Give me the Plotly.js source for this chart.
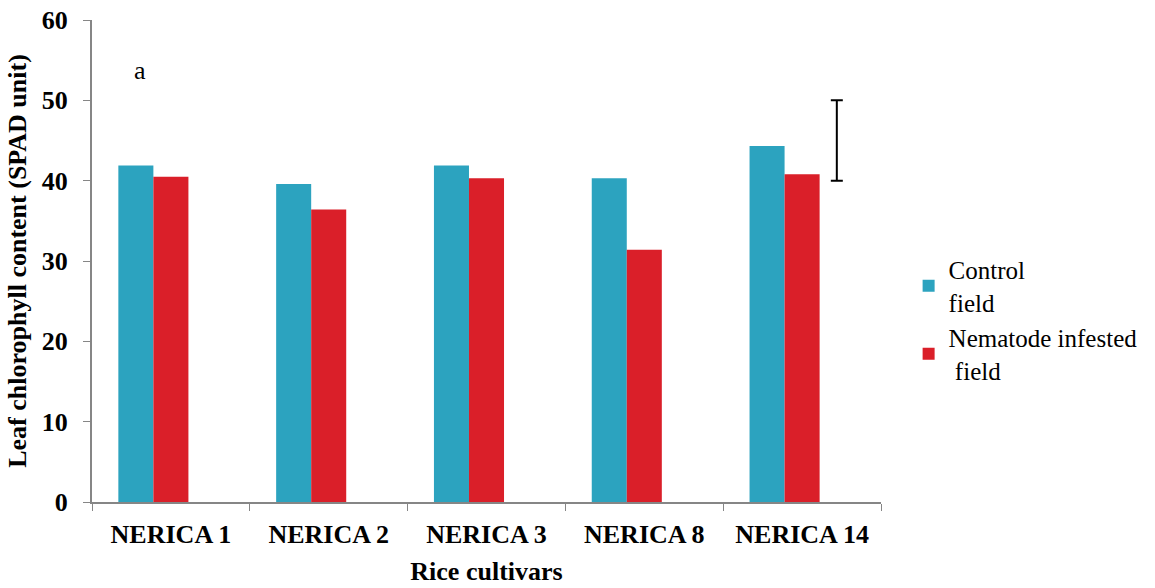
<!DOCTYPE html>
<html>
<head>
<meta charset="utf-8">
<script src="https://cdn.plot.ly/plotly-3.0.1.min.js"></script>
<style>html,body{margin:0;padding:0;background:#fff;}#chart{width:1155px;height:588px;}</style>
</head>
<body>
<div id="chart"></div>
<script>
const categories = ["NERICA 1", "NERICA 2", "NERICA 3", "NERICA 8", "NERICA 14"];
const controlValues = [41.9, 39.6, 41.9, 40.3, 44.3];
const infestedValues = [40.5, 36.4, 40.3, 31.4, 40.8];
const seriesNames = ["Control<br>field", "Nematode infested<br> field"];
const lsdPosition = [4.22];
const lsdCenter = [45];
const lsdHalf = [5];
const annotationText = "a";

const font = "Liberation Serif";
const axisColor = "#868686";

const traces = [
  {type: "bar", x: categories, y: controlValues, name: seriesNames[0],
   marker: {color: "#2CA3BF"}, width: 0.222, offset: -0.333},
  {type: "bar", x: categories, y: infestedValues, name: seriesNames[1],
   marker: {color: "#DA1F29"}, width: 0.222, offset: -0.111},
  {type: "scatter", mode: "markers", x: lsdPosition, y: lsdCenter, xaxis: "x2",
   marker: {size: 0.1, color: "rgba(0,0,0,0)"}, showlegend: false, hoverinfo: "skip",
   error_y: {type: "data", array: lsdHalf, visible: true, color: "#000", thickness: 2, width: 6}}
];

const layout = {
  width: 1155, height: 588,
  margin: {l: 92, r: 274, t: 20, b: 86},
  paper_bgcolor: "#fff", plot_bgcolor: "#fff",
  font: {family: font, color: "#000"},
  showlegend: true,
  legend: {x: 1.035, y: 0.378, xanchor: "left", yanchor: "middle",
           font: {family: font, size: 25, color: "#000"}, itemwidth: 30},
  xaxis: {type: "category", tickson: "boundaries", ticks: "outside", ticklen: 7,
          tickcolor: axisColor, showline: true, linecolor: axisColor, linewidth: 2,
          showgrid: false, zeroline: false, range: [-0.5, 4.5], ticklabelstandoff: 8,
          tickfont: {family: font, size: 26, weight: "bold"},
          title: {text: "<b>Rice cultivars</b>", font: {family: font, size: 26}, standoff: 14}},
  xaxis2: {overlaying: "x", range: [-0.5, 4.5], visible: false, showgrid: false, zeroline: false},
  yaxis: {range: [0, 60], tickvals: [0, 10, 20, 30, 40, 50, 60], ticks: "outside", ticklen: 7,
          tickcolor: axisColor, showline: true, linecolor: axisColor, linewidth: 2,
          showgrid: false, zeroline: false, ticklabelstandoff: 10,
          tickfont: {family: font, size: 26, weight: "bold"},
          title: {text: "<b>Leaf chlorophyll content (SPAD unit)</b>", font: {family: font, size: 26}, standoff: 8}},
  annotations: [{text: annotationText, xref: "paper", yref: "paper", x: 0.061, y: 0.896,
                 xanchor: "center", yanchor: "middle",
                 showarrow: false, font: {family: font, size: 26, color: "#000"}}]
};

Plotly.newPlot("chart", traces, layout, {staticPlot: true});
</script>
</body>
</html>
